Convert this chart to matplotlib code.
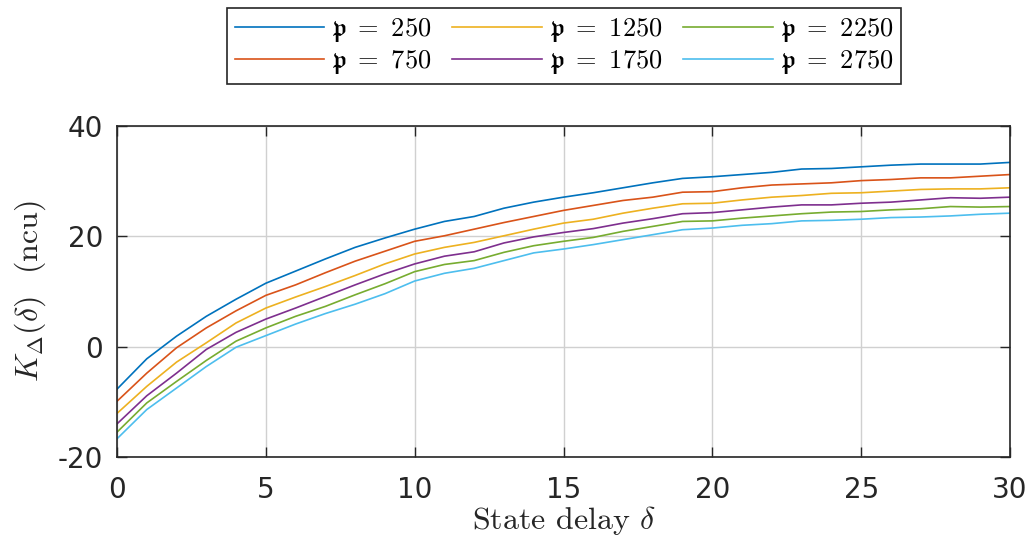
import matplotlib
matplotlib.use("Agg")
import matplotlib.pyplot as plt
import numpy as np

delta = list(range(31))
p_values = [250, 750, 1250, 1750, 2250, 2750]

k_250 = [-7.7, -2.2, 1.9, 5.5, 8.6, 11.5, 13.7, 15.9, 18.0, 19.7, 21.3, 22.7, 23.6, 25.1, 26.2,
         27.1, 27.9, 28.8, 29.7, 30.5, 30.8, 31.2, 31.6, 32.2, 32.3, 32.6, 32.9, 33.1, 33.1, 33.1, 33.4]
k_750 = [-9.9, -4.8, -0.2, 3.4, 6.5, 9.3, 11.2, 13.4, 15.5, 17.3, 19.1, 20.1, 21.3, 22.5, 23.6,
         24.7, 25.6, 26.5, 27.1, 28.0, 28.1, 28.8, 29.3, 29.5, 29.7, 30.1, 30.3, 30.6, 30.6, 30.9, 31.2]
k_1250 = [-12.1, -7.2, -2.8, 0.7, 4.3, 7.0, 9.0, 10.9, 12.9, 15.0, 16.8, 18.0, 18.9, 20.1, 21.3,
          22.4, 23.1, 24.2, 25.1, 25.9, 26.0, 26.6, 27.1, 27.4, 27.8, 27.9, 28.2, 28.5, 28.6, 28.6, 28.8]
k_1750 = [-14.0, -8.9, -4.8, -0.5, 2.6, 5.0, 7.0, 9.1, 11.2, 13.2, 15.0, 16.4, 17.2, 18.8, 19.9,
          20.7, 21.4, 22.4, 23.2, 24.1, 24.3, 24.8, 25.3, 25.7, 25.7, 26.0, 26.2, 26.6, 27.0, 26.9, 27.1]
k_2250 = [-15.5, -10.2, -6.3, -2.5, 1.0, 3.4, 5.5, 7.3, 9.4, 11.4, 13.6, 14.9, 15.6, 17.1, 18.3,
          19.1, 19.8, 20.9, 21.8, 22.7, 22.8, 23.3, 23.7, 24.1, 24.4, 24.5, 24.8, 25.0, 25.4, 25.3, 25.4]
k_2750 = [-16.7, -11.4, -7.5, -3.6, -0.1, 2.0, 4.1, 6.0, 7.7, 9.6, 11.9, 13.3, 14.2, 15.6, 17.0,
          17.7, 18.5, 19.4, 20.3, 21.2, 21.5, 22.0, 22.3, 22.8, 22.9, 23.1, 23.4, 23.5, 23.7, 24.0, 24.2]
series = [k_250, k_750, k_1250, k_1750, k_2250, k_2750]
colors = ["#0072BD", "#D95319", "#EDB120", "#7E2F8E", "#77AC30", "#4DBEEE"]

x_ticks = [0, 5, 10, 15, 20, 25, 30]
y_ticks = [-20, 0, 20, 40]

plt.rcParams['mathtext.fontset'] = 'cm'
plt.rcParams['font.family'] = ['DejaVu Sans']

fig = plt.figure(figsize=(10.32, 5.43), dpi=100)
ax = fig.add_axes([117/1032, 1 - 457/543, (1010-117)/1032, (457-126)/543])

for vals, p, c in zip(series, p_values, colors):
    ax.plot(delta, vals, color=c, lw=1.2, label=r'$\mathfrak{p}\ =\ %d$' % p)

ax.set_xlim(0, 30)
ax.set_ylim(-20, 40)
ax.set_xticks(x_ticks)
ax.set_yticks(y_ticks)
ax.set_yticklabels([str(v) for v in y_ticks])
ax.grid(True, color='#d0d0d0', lw=1.0)
ax.set_axisbelow(True)
ax.tick_params(direction='in', length=7, width=1.0, top=True, right=True,
               labelsize=20, colors='#262626', pad=10)
ax.tick_params(axis='x', pad=14)
for s in ax.spines.values():
    s.set_color('#262626')
    s.set_linewidth(1.2)

ax.set_xlabel(r'State delay $\delta$', fontsize=23, family='cmr10', labelpad=0, color='#262626')
ax.set_ylabel(r'$K_\Delta(\delta)$  (ncu)', fontsize=23, family='cmr10', labelpad=7, color='#262626')

leg = fig.legend(loc='upper center', bbox_to_anchor=(564/1032, 1 - 8/543), ncol=3,
                 fontsize=19, handlelength=3.4, handletextpad=0.25, columnspacing=0.8,
                 labelspacing=0.15, borderpad=0.3, fancybox=False, framealpha=1,
                 edgecolor='#262626', borderaxespad=0)
leg.get_frame().set_linewidth(1.2)

fig.savefig('out.png', dpi=100)
